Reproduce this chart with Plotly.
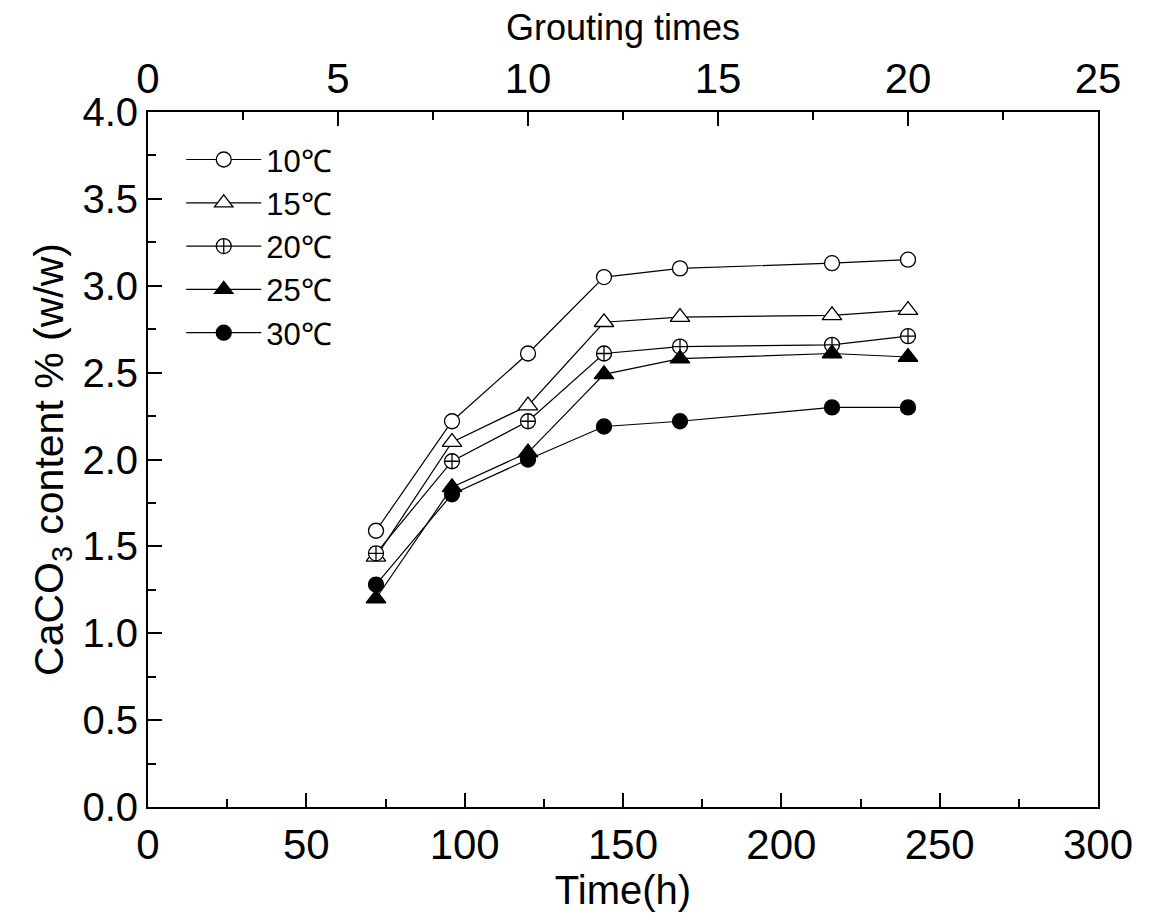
import plotly.graph_objects as go

time_h = [72, 96, 120, 144, 168, 216, 240]
grouting = [6, 8, 10, 12, 14, 18, 20]
t10 = [1.59, 2.22, 2.61, 3.05, 3.10, 3.13, 3.15]
t15 = [1.44, 2.10, 2.31, 2.79, 2.82, 2.83, 2.86]
t20 = [1.46, 1.99, 2.22, 2.61, 2.65, 2.66, 2.71]
t25 = [1.20, 1.84, 2.04, 2.49, 2.58, 2.61, 2.59]
t30 = [1.28, 1.80, 2.00, 2.19, 2.22, 2.30, 2.30]

series = [
    ("10℃", t10, "circle", 15, "white"),
    ("15℃", t15, "triangle-up", 17, "white"),
    ("20℃", t20, "circle-cross", 15, "white"),
    ("25℃", t25, "triangle-up", 17, "black"),
    ("30℃", t30, "circle", 15, "black"),
]

FONT = "Liberation Sans, Arial, sans-serif"

fig = go.Figure()
for name, vals, sym, sz, fill in series:
    fig.add_trace(go.Scatter(
        x=time_h, y=vals, name=name, mode="lines+markers",
        line=dict(color="black", width=1.2),
        marker=dict(symbol=sym, size=sz, color=fill,
                    line=dict(color="black", width=1.3)),
    ))

# invisible trace on the top axis (grouting times) so the axis is drawn
fig.add_trace(go.Scatter(
    x=grouting, y=t30, xaxis="x2", yaxis="y", mode="markers",
    marker=dict(opacity=0), showlegend=False, hoverinfo="skip",
))

axis_common = dict(
    showline=True, linecolor="black", linewidth=2,
    ticks="inside", tickcolor="black", tickwidth=2, ticklen=14,
    showgrid=False, zeroline=False,
)

fig.update_layout(
    width=1152, height=922,
    margin=dict(l=148, r=54, t=112, b=115),
    paper_bgcolor="white", plot_bgcolor="white",
    font=dict(family=FONT, color="black"),
    xaxis=dict(
        **axis_common, range=[0, 300], dtick=50, tick0=0,
        minor=dict(ticks="inside", ticklen=8, tickwidth=2, tickcolor="black", dtick=25),
        tickfont=dict(size=42),
        title=dict(text="Time(h)", font=dict(size=40), standoff=2),
        mirror=False,
    ),
    xaxis2=dict(
        **axis_common, range=[0, 25], dtick=5, tick0=0,
        minor=dict(ticks="inside", ticklen=8, tickwidth=2, tickcolor="black", dtick=2.5),
        overlaying="x", side="top", anchor="y",
        tickfont=dict(size=42),
        title=dict(text="Grouting times", font=dict(size=36), standoff=4),
    ),
    yaxis=dict(
        **axis_common, range=[0, 4.0], dtick=0.5, tick0=0, tickformat=".1f",
        minor=dict(ticks="inside", ticklen=8, tickwidth=2, tickcolor="black", dtick=0.25),
        tickfont=dict(size=40),
        title=dict(text="CaCO<sub>3</sub> content % (w/w)", font=dict(size=41), standoff=6),
        mirror=True,
    ),
    legend=dict(
        x=0.035, y=0.97, xanchor="left", yanchor="top",
        bgcolor="rgba(0,0,0,0)", borderwidth=0, itemwidth=75,
        font=dict(size=31, family=FONT), tracegroupgap=0,
    ),
    showlegend=True,
)

fig.write_html("out.html")
